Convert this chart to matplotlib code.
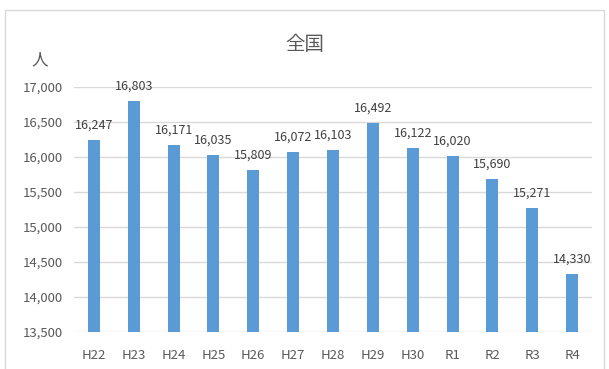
import matplotlib
matplotlib.use('Agg')
import matplotlib.pyplot as plt
from matplotlib.patches import Rectangle

plt.rcParams['font.family'] = ['Noto Sans CJK JP', 'DejaVu Sans']

years = ['H22', 'H23', 'H24', 'H25', 'H26', 'H27', 'H28', 'H29', 'H30',
         'R1', 'R2', 'R3', 'R4']
people = [16247, 16803, 16171, 16035, 15809, 16072, 16103, 16492, 16122,
          16020, 15690, 15271, 14330]
yticks = [13500, 14000, 14500, 15000, 15500, 16000, 16500, 17000]

bar_color = '#5B9BD5'
text_color = '#595959'

fig = plt.figure(figsize=(6.09, 3.69), dpi=100)
fig.patch.set_facecolor('white')

# chart frame
fig.patches.append(Rectangle((5 / 609, -0.01), 599 / 609, 1 - 10 / 369 + 0.01,
                             transform=fig.transFigure, fill=False,
                             edgecolor='#D9D9D9', linewidth=1))

ax = fig.add_axes([74 / 609, 1 - 332 / 369, 518 / 609, 245 / 369])
x = range(len(years))
ax.bar(x, people, width=0.3, color=bar_color, zorder=3)

ax.set_xlim(-0.5, len(years) - 0.5)
ax.set_ylim(13500, 17000)
ax.set_yticks(yticks)
ax.set_yticklabels([f'{v:,}' for v in yticks])
ax.set_xticks(list(x))
ax.set_xticklabels(years)
ax.tick_params(length=0, labelsize=9.5, colors=text_color)
ax.tick_params(axis='y', pad=8)
ax.tick_params(axis='x', pad=12)
ax.grid(True, axis='y', color='#D9D9D9', linewidth=1, zorder=0)
for s in ax.spines.values():
    s.set_visible(False)

for i, v in enumerate(people):
    ax.annotate(f'{v:,}', (i, v), xytext=(0, 6), textcoords='offset points',
                ha='center', va='bottom', fontsize=9, color='#404040')

fig.text(305 / 609, 1 - 45 / 369, '全国', ha='center', va='center',
         fontsize=14, color=text_color)
fig.text(40 / 609, 1 - 60 / 369, '人', ha='center', va='center',
         fontsize=12, color=text_color)

fig.savefig('out.png', dpi=100)
